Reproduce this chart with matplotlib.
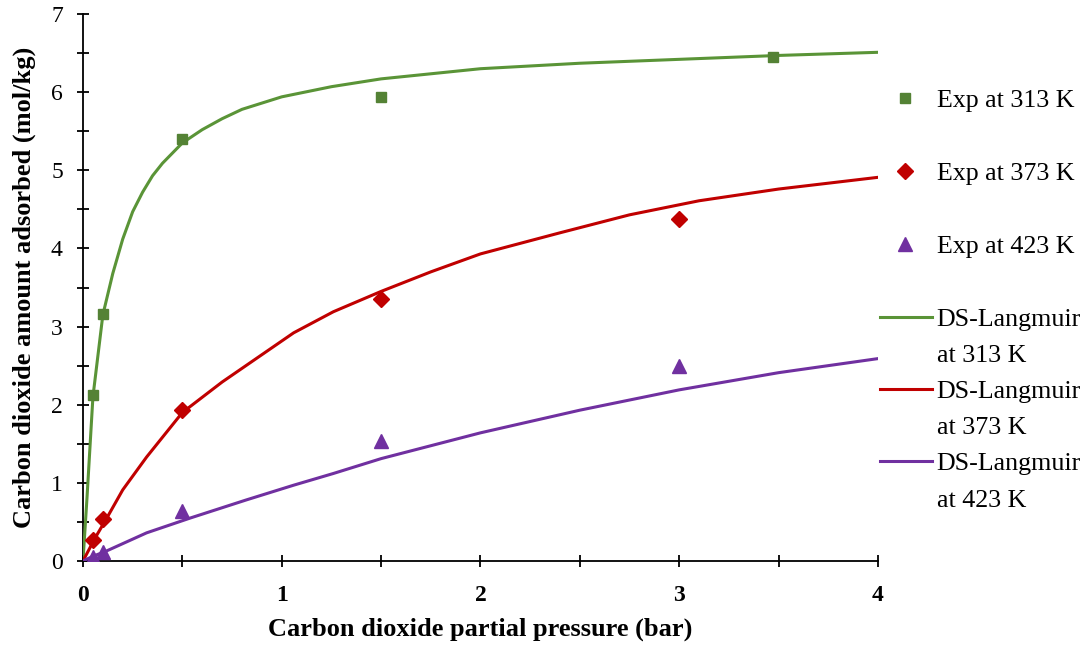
import numpy as np
import matplotlib
matplotlib.use('Agg')
import matplotlib.pyplot as plt
from matplotlib.ticker import MultipleLocator
from matplotlib.lines import Line2D

plt.rcParams['font.family'] = 'Liberation Serif'

# experimental points
exp_p = {
    '313': [0.05, 0.1, 0.5, 1.5, 3.47],
    '373': [0.05, 0.1, 0.5, 1.5, 3.0],
    '423': [0.05, 0.1, 0.5, 1.5, 3.0],
}
exp_q = {
    '313': [2.12, 3.16, 5.40, 5.94, 6.45],
    '373': [0.27, 0.54, 1.93, 3.35, 4.38],
    '423': [0.05, 0.12, 0.64, 1.54, 2.50],
}

# DS-Langmuir fitted curves
fit_p_313 = [0, 0.02, 0.05, 0.1, 0.15, 0.2, 0.25, 0.3, 0.35, 0.4, 0.5, 0.6, 0.7, 0.8, 1.0, 1.25, 1.5, 2.0, 2.5, 3.0, 3.5, 4.0]
fit_q_313 = [0, 0.8, 2.1, 3.15, 3.68, 4.12, 4.47, 4.72, 4.93, 5.09, 5.35, 5.52, 5.66, 5.78, 5.94, 6.07, 6.17, 6.30, 6.37, 6.42, 6.47, 6.51]
fit_p_373 = [0, 0.06, 0.12, 0.2, 0.32, 0.5, 0.7, 0.86, 1.06, 1.26, 1.5, 1.75, 2.0, 2.4, 2.75, 3.1, 3.5, 4.0]
fit_q_373 = [0, 0.29, 0.55, 0.91, 1.33, 1.9, 2.29, 2.57, 2.92, 3.19, 3.45, 3.70, 3.93, 4.20, 4.43, 4.61, 4.76, 4.91]
fit_p_423 = [0, 0.05, 0.12, 0.32, 0.54, 0.82, 1.06, 1.26, 1.5, 2.0, 2.5, 3.0, 3.5, 4.0]
fit_q_423 = [0, 0.06, 0.13, 0.36, 0.55, 0.78, 0.97, 1.12, 1.31, 1.64, 1.93, 2.19, 2.41, 2.59]

c313 = '#548235'
c313_line = '#5a9437'
c373 = '#c00000'
c423 = '#7030a0'

fig = plt.figure(figsize=(10.89, 6.46), dpi=100)
ax = fig.add_axes([0.0762, 0.1316, 0.7300, 0.8467])

ax.plot(fit_p_313, fit_q_313, c=c313_line, lw=2.2, zorder=3)
ax.plot(fit_p_373, fit_q_373, c=c373, lw=2.2, zorder=3)
ax.plot(fit_p_423, fit_q_423, c=c423, lw=2.2, zorder=3)

ax.plot(exp_p['313'], exp_q['313'], ls='None', marker='s', ms=7, c=c313, zorder=4)
ax.plot(exp_p['373'], exp_q['373'], ls='None', marker='D', ms=8, c=c373, zorder=4)
ax.plot(exp_p['423'], exp_q['423'], ls='None', marker='^', ms=10, c=c423, zorder=4)

ax.set_xlim(0, 4)
ax.set_ylim(0, 7)
ax.xaxis.set_major_locator(MultipleLocator(1))
ax.xaxis.set_minor_locator(MultipleLocator(0.5))
ax.yaxis.set_major_locator(MultipleLocator(1))
ax.yaxis.set_minor_locator(MultipleLocator(0.5))
for s in ['top', 'right']:
    ax.spines[s].set_visible(False)
for s in ['left', 'bottom']:
    ax.spines[s].set_linewidth(1.3)
ax.tick_params(which='both', direction='inout', length=9, width=1.3)
ax.tick_params(axis='x', pad=13)
ax.tick_params(axis='y', pad=10)
for t in ax.get_yticklabels():
    t.set_fontsize(17)
for t in ax.get_xticklabels():
    t.set_fontsize(17)
    t.set_fontweight('bold')

ax.set_xlabel('Carbon dioxide partial pressure (bar)', fontsize=19, fontweight='bold', labelpad=8)
ax.set_ylabel('Carbon dioxide amount adsorbed (mol/kg)', fontsize=19, fontweight='bold', labelpad=11)

h_exp = [
    Line2D([], [], ls='None', marker='s', ms=7, c=c313),
    Line2D([], [], ls='None', marker='D', ms=8, c=c373),
    Line2D([], [], ls='None', marker='^', ms=10, c=c423),
]
leg1 = fig.legend(h_exp, ['Exp at 313 K', 'Exp at 373 K', 'Exp at 423 K'],
                  loc='upper left', bbox_to_anchor=(0.808, 0.863), frameon=False,
                  fontsize=18.7, labelspacing=1.93, handlelength=1.92, handletextpad=0.27,
                  borderpad=0, borderaxespad=0)

# second legend: one row per text line so the line handle sits on the first line
blank = Line2D([], [], ls='None')
h_fit = [
    Line2D([], [], c=c313_line, lw=2.2), blank,
    Line2D([], [], c=c373, lw=2.2), blank,
    Line2D([], [], c=c423, lw=2.2), blank,
]
fit_labels = ['DS-Langmuir', 'at 313 K', 'DS-Langmuir', 'at 373 K', 'DS-Langmuir', 'at 423 K']
leg2 = fig.legend(h_fit, fit_labels,
                  loc='upper left', bbox_to_anchor=(0.808, 0.524), frameon=False,
                  fontsize=18.7, labelspacing=0.5, handlelength=2.0, handletextpad=0.18,
                  borderpad=0, borderaxespad=0)

fig.savefig('out.png', dpi=100)
